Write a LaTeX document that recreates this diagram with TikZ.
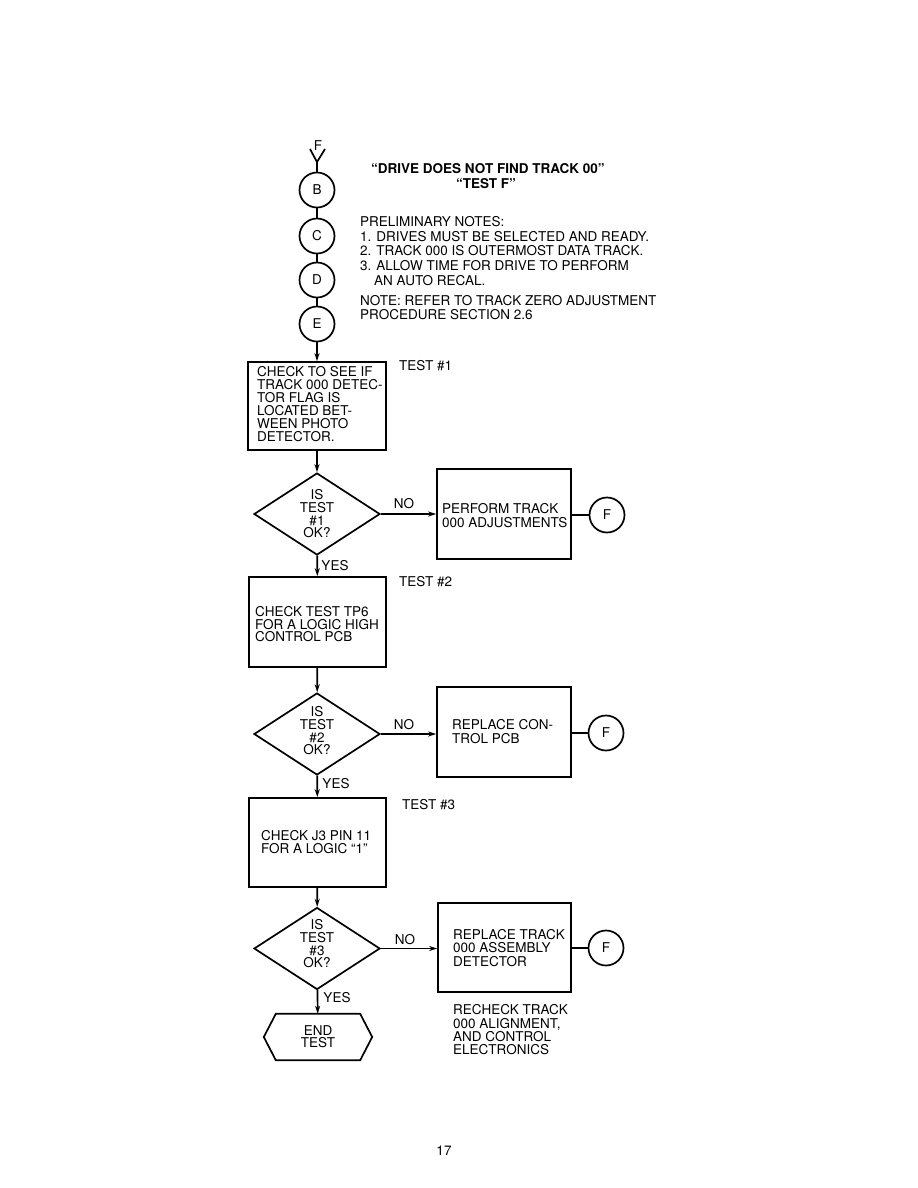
\documentclass[tikz,border=0pt]{standalone}
\usepackage{fontspec}
\setmainfont{TeX Gyre Heros}
\usetikzlibrary{shapes.geometric,arrows.meta}
\newcommand\myfont[1]{\fontsize{13.5bp}{#1bp}\selectfont}
\begin{document}
\begin{tikzpicture}[x=1bp,y=-1bp,
  ln/.style={line width=1.7bp},
  arr/.style={ln,-{Stealth[length=8bp,width=5bp]}},
  box/.style={draw,ln,inner sep=0,minimum width=#1},
  circ/.style={circle,draw,ln,minimum size=35bp,inner sep=0,font=\myfont{13}},
  dia/.style={diamond,draw,ln,minimum width=126bp,minimum height=82bp,inner sep=0},
  txt/.style={inner sep=0,align=left,font=\myfont{#1}},
  dtxt/.style={inner sep=0,align=center,font=\myfont{12.7}},
  lbl/.style={inner sep=0,font=\myfont{13}},
  endshape/.style={inner sep=0,minimum width=84bp,minimum height=46bp,align=center,font=\myfont{12}}
]
\useasboundingbox (0,0) rectangle (918,1188);

% top entry
\node[lbl] (fin) at (318,146) {F};
\coordinate (vl) at (310,149);
\coordinate (vr) at (325,149);
\coordinate (vj) at (317,162);
\node[circ] (B) at (317,190) {B};
\node[circ] (C) at (317,236) {C};
\node[circ] (D) at (317,280) {D};
\node[circ] (E) at (317,324) {E};
\draw[ln] (vl) -- (vj) -- (vr);
\draw[ln] (vj) -- (B.north);
\draw[ln] (B) -- (C);
\draw[ln] (C) -- (D);
\draw[ln] (D) -- (E);

% header texts
\node[lbl,font=\myfont{13}\bfseries,anchor=west] (title) at (371,169) {``DRIVE DOES NOT FIND TRACK 00''};
\node[lbl,font=\myfont{13}\bfseries] (testf) at (486,184) {``TEST F''};
\node[txt=14.6,anchor=west] (notes) at (360,251) {PRELIMINARY NOTES:\\1. DRIVES MUST BE SELECTED AND READY.\\2. TRACK 000 IS OUTERMOST DATA TRACK.\\3. ALLOW TIME FOR DRIVE TO PERFORM\\\hspace*{14bp}AN AUTO RECAL.};
\node[txt=14,anchor=west] (note2) at (360,308) {NOTE: REFER TO TRACK ZERO ADJUSTMENT\\PROCEDURE SECTION 2.6};

% test 1
\node[box=138bp,minimum height=88bp] (b1) at (317,406) {};
\node[txt=13,anchor=west] (b1t) at (257,404.5) {CHECK TO SEE IF\\TRACK 000 DETEC-\\TOR FLAG IS\\LOCATED BET-\\WEEN PHOTO\\DETECTOR.};
\node[lbl,anchor=west] (t1) at (399,366) {TEST \#1};
\node[dia] (d1) at (317,514) {};
\node[dtxt] (d1t) at (317,514) {IS\\TEST\\\#1\\OK?};
\node[box=134bp,minimum height=90bp] (p1) at (504,514) {};
\node[txt=14,anchor=west] (p1t) at (442,515.5) {PERFORM TRACK\\000 ADJUSTMENTS};
\node[circ] (f1) at (607,515) {F};
\draw[arr] (E) -- (b1);
\draw[arr] (b1) -- (d1);
\draw[arr] (d1.east) -- (p1.west |- d1.east);
\draw[ln] (p1.east |- f1) -- (f1);
\node[lbl] (no1) at (404,504) {NO};
\node[lbl] (yes1) at (335,566) {YES};

% test 2
\node[box=137bp,minimum height=90bp] (b2) at (317.5,622) {};
\node[txt=12.5,anchor=west] (b2t) at (255,624.5) {CHECK TEST TP6\\FOR A LOGIC HIGH\\CONTROL PCB};
\node[lbl,anchor=west] (t2) at (399,582) {TEST \#2};
\draw[arr] (d1) -- (b2);
\node[dia] (d2) at (317,734) {};
\node[dtxt] (d2t) at (317,731) {IS\\TEST\\\#2\\OK?};
\node[box=134bp,minimum height=90bp] (r2) at (504,732) {};
\node[txt=14,anchor=west] (r2t) at (452,732) {REPLACE CON-\\TROL PCB};
\node[circ] (f2) at (606,733) {F};
\draw[arr] (b2) -- (d2);
\draw[arr] (d2.east) -- (r2.west |- d2.east);
\draw[ln] (r2.east |- f2) -- (f2);
\node[lbl] (no2) at (404,725) {NO};
\node[lbl] (yes2) at (336,784) {YES};

% test 3
\node[box=137bp,minimum height=89bp] (b3) at (317.5,842.5) {};
\node[txt=13,anchor=west] (b3t) at (261,842) {CHECK J3 PIN 11\\FOR A LOGIC ``1''};
\node[lbl,anchor=west] (t3) at (402,805) {TEST \#3};
\draw[arr] (d2) -- (b3);
\node[dia] (d3) at (317,948.5) {};
\node[dtxt] (d3t) at (317,944) {IS\\TEST\\\#3\\OK?};
\node[box=133bp,minimum height=89bp] (r3) at (504.5,947.5) {};
\node[txt=13.5,anchor=west] (r3t) at (453,948) {REPLACE TRACK\\000 ASSEMBLY\\DETECTOR};
\node[circ] (f3) at (606,948) {F};
\draw[arr] (b3) -- (d3);
\draw[arr] (d3.east) -- (r3.west |- d3.east);
\draw[ln] (r3.east |- f3) -- (f3);
\node[lbl] (no3) at (405,940) {NO};
\node[lbl] (yes3) at (337,998) {YES};
\node[txt=13.3,anchor=west] (rc) at (453,1030) {RECHECK TRACK\\000 ALIGNMENT,\\AND CONTROL\\ELECTRONICS};

% end
\node[endshape] (end) at (318,1037) {END\\TEST};
\draw[ln,line join=miter] (end.north west) -- (end.north east) -- ([xshift=12bp]end.east)
  -- (end.south east) -- (end.south west) -- ([xshift=-12bp]end.west) -- cycle;
\draw[arr] (d3) -- (end);

\node[lbl,font=\myfont{13}] (pg) at (444,1151) {17};
\end{tikzpicture}
\end{document}
